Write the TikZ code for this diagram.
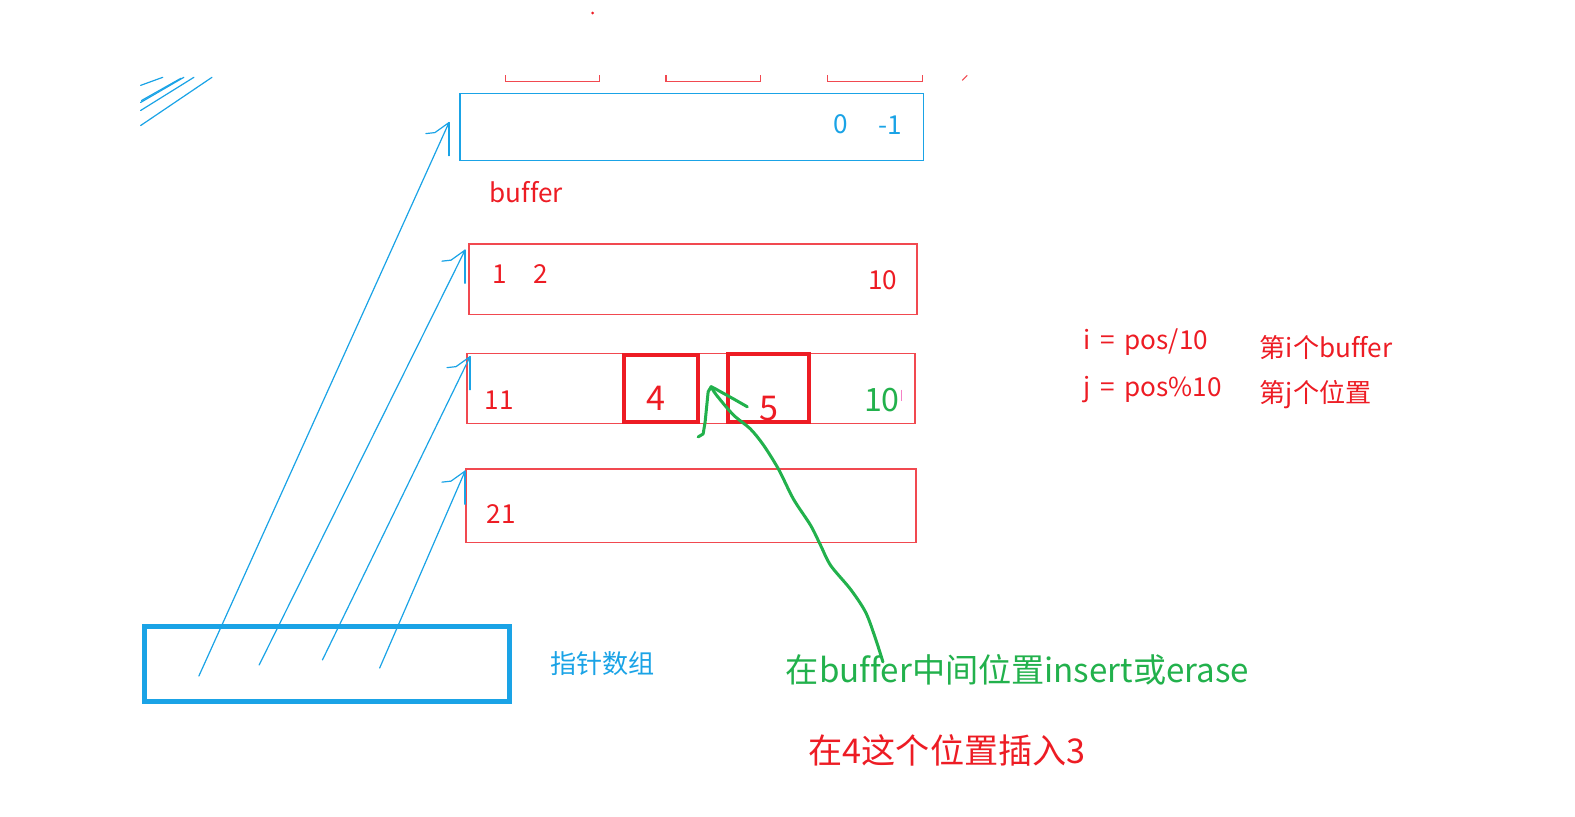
\documentclass[tikz,border=0pt]{standalone}
\usepackage{fontspec}
\setmainfont[Ligatures=NoCommon]{Noto Sans CJK SC}
\usepackage{xcolor}
\usepackage{tikz}
\usetikzlibrary{positioning}
\definecolor{penred}{HTML}{ED1C24}
\definecolor{penblue}{HTML}{1AA3E6}
\definecolor{pengreen}{HTML}{22B14C}
\tikzstyle{buf} = [draw=penred!80, line width=1.2pt, minimum width=446, minimum height=70]
\tikzstyle{cell} = [draw=penred, line width=4pt]
\tikzstyle{stroke} = [penblue, line width=1.2pt, line cap=round, line join=round]
\tikzstyle{big} = [font=\fontsize{34}{40}\selectfont]
\newcommand{\gap}{\hspace{.38em}}

\begin{document}
\begin{tikzpicture}
    [x=1pt,y=-1pt,every node/.style={inner sep=0pt,
    font=\fontsize{26}{31}\selectfont}]
    \useasboundingbox (0,0) rectangle (1568,813);
    % rows of the buffer
    \node[draw=penblue, line width=1.2pt, minimum width=461,
      minimum height=67] (b0) at (688.5,126.5) {};
    \node[buf] (b1) at (690,278) {};
    \node[buf] (b2) at (688,387) {};
    \node[buf, minimum width=448, minimum height=73] (b3) at (688,503.5) {};
    \node[cell, minimum width=74, minimum height=67] (c4) at (658,386.5) {};
    \node[cell, minimum width=80, minimum height=68] (c5) at (765,386) {};
    \node[draw=penblue, line width=5pt, minimum width=363,
      minimum height=74] (arr) at (325.5,661) {};
    % numbers
    \node[text=penblue] (n0) at (837,124) {0};
    \node[text=penblue] (nm) at (886,125) {-1};
    \node[text=penred] (lbl) at (524,191) {buffer};
    \node[text=penred] (n1) at (498,273) {1};
    \node[text=penred] (n2) at (538,273) {2};
    \node[text=penred] (n10) at (879,279) {10};
    \node[text=penred] (n11) at (497,398) {11};
    \node[text=penred, big] (n4) at (653,397) {4};
    \node[text=penred, big] (n5) at (766,407) {5};
    \node[text=pengreen, font=\fontsize{32}{38}\selectfont] (g10) at (878,398) {10};
    \node[text=penred] (n21) at (499,512) {21};
    \node[text=penblue] (ptr) at (600,661) {指针数组};
    \node[text=penred, anchor=west] (fi) at (1078,341) {i\gap=\gap pos/10};
    \node[text=penred, anchor=west] (fj) at (1078,388) {j\gap=\gap pos\%10};
    \node[text=penred, anchor=west] (wi) at (1254,346) {第i个buffer};
    \node[text=penred, anchor=west] (wj) at (1254,393) {第j个位置};
    \node[text=pengreen, font=\fontsize{33}{39}\selectfont] (note) at (1013,667)
      {在buffer中间位置insert或erase};
    \node[text=penred, big] (ins) at (943,747) {在4这个位置插入3};
    % top marks
    \fill[penred] (590,13) circle (1.5);
    \foreach \x in {503,663,824}
    \draw[penred!80, line width=1.2pt] (\x,75) -- (\x,81) -- (\x+94,81) -- (\x+94,75);
    \draw[penred!80, line width=1.2pt] (958,80) -- (963,75);
    \draw[magenta!50, line width=1pt] (897,388) -- (897,399);
    \foreach \a/\b/\c/\d in {140/85/162/77,140/102/183/77,140/110/193/77,
    140/125/211/77,141/100/180/78}
    \draw[stroke] (\a,\b) -- (\c,\d);
    % pointers
    \coordinate (s1) at (198,673);
    \coordinate (s2) at (258,662);
    \coordinate (s3) at (321,657);
    \coordinate (s4) at (378,665);
    \coordinate (t1) at (447,122);
    \coordinate (t2) at (463,249);
    \coordinate (t3) at (468,355);
    \coordinate (t4) at (463,469);
    \foreach \i in {1,...,4}{
    \draw[stroke] (s\i) -- (t\i) -- ++(-14,10) -- ++(-9,1);
    \draw[stroke] (t\i) -- ++(0,33);}
    % insert arrow
    \coordinate (g0) at (879,659);
    \coordinate (gt) at (708,385);
    \draw[pengreen, line width=3pt, line cap=round, line join=round]
      plot[smooth] coordinates {(g0) (872,637) (862,610) (847,587) (827,563)
      (817,543) (807,523) (790,497) (775,467) (760,443) (747,427) (730,413)
      (713,393) (gt)};
    \draw[pengreen, line width=3pt, line cap=round, line join=round]
      (gt) -- (705,390) -- (702,420) -- (700,432) -- (695,435);
    \draw[pengreen, line width=3pt, line cap=round, line join=round]
      (gt) -- (712,387) -- (730,397) -- (744,405);
\end{tikzpicture}
\end{document}
